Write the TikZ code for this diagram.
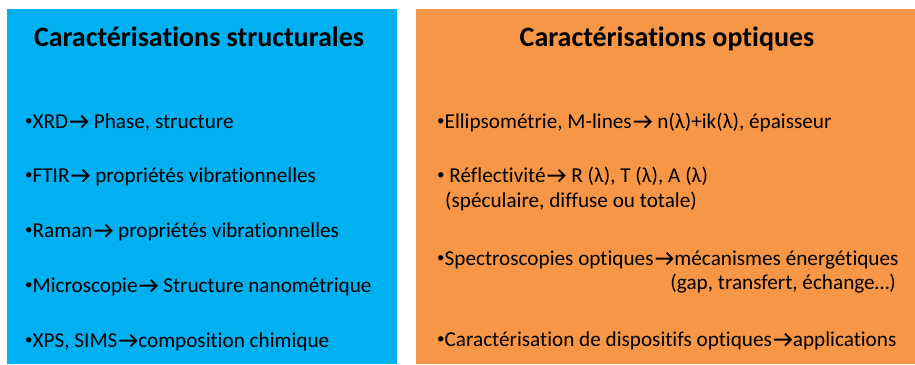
\documentclass[tikz,border=0pt]{standalone}
\usepackage{fontspec}
\setmainfont{Carlito}[Ligatures={NoCommon}]
\definecolor{boxblue}{HTML}{00B0F0}
\definecolor{boxorange}{HTML}{F79646}
\newcommand{\ra}{\hspace{0.05em}\tikz[x=1em,y=1em,baseline=0pt]{\draw[line width=0.085em,line join=miter] (0,0.3) -- (0.8,0.3) (0.52,0.58) -- (0.8,0.3) -- (0.52,0.02);}\hspace{0.05em}}
\newcommand{\bul}{{\fontsize{15}{15}\selectfont\raisebox{2.2pt}{•}}}
\tikzset{
  item/.style={anchor=base west, inner sep=0pt, font=\fontsize{21.2}{25}\selectfont},
  itemr/.style={anchor=base east, inner sep=0pt, font=\fontsize{21.2}{25}\selectfont},
  ttl/.style={anchor=base, inner sep=0pt, font=\fontsize{28}{32}\selectfont\bfseries},
}
\begin{document}
\begin{tikzpicture}[x=1pt,y=-1pt]
\useasboundingbox (0,0) rectangle (915,364);
\fill[white] (0,0) rectangle (915,364);
\fill[boxblue] (7.3,9.3) rectangle (396.7,364);
\fill[boxorange] (416,9.3) rectangle (915,364);
% left
\node[ttl] (tl) at (199,46) {Caractérisations structurales};
\node[item] (l1) at (25,128) {\bul XRD\ra{} Phase, structure};
\node[item] (l2) at (25,182) {\bul FTIR\ra{} propriétés vibrationnelles};
\node[item] (l3) at (25,237) {\bul Raman\ra{} propriétés vibrationnelles};
\node[item] (l4) at (25,292) {\bul Microscopie\ra{} Structure nanométrique};
\node[item] (l5) at (25,347) {\bul XPS, SIMS\ra{}composition chimique};
% right
\node[ttl] (tr) at (667,46) {Caractérisations optiques};
\node[item] (r1) at (437,128) {\bul Ellipsométrie, M-lines\ra{} n(λ)+ik(λ), épaisseur};
\node[item] (r2) at (437,182) {\bul{} Réflectivité\ra{} R (λ), T (λ), A (λ)};
\node[item] (r2b) at (445,207) {(spéculaire, diffuse ou totale)};
\node[item] (r3) at (437,265) {\bul Spectroscopies optiques\ra{}mécanismes énergétiques};
\node[itemr] (r3b) at (896,289) {(gap, transfert, échange…)};
\node[item] (r4) at (437,346) {\bul Caractérisation de dispositifs optiques\ra{}applications};
\end{tikzpicture}
\end{document}
